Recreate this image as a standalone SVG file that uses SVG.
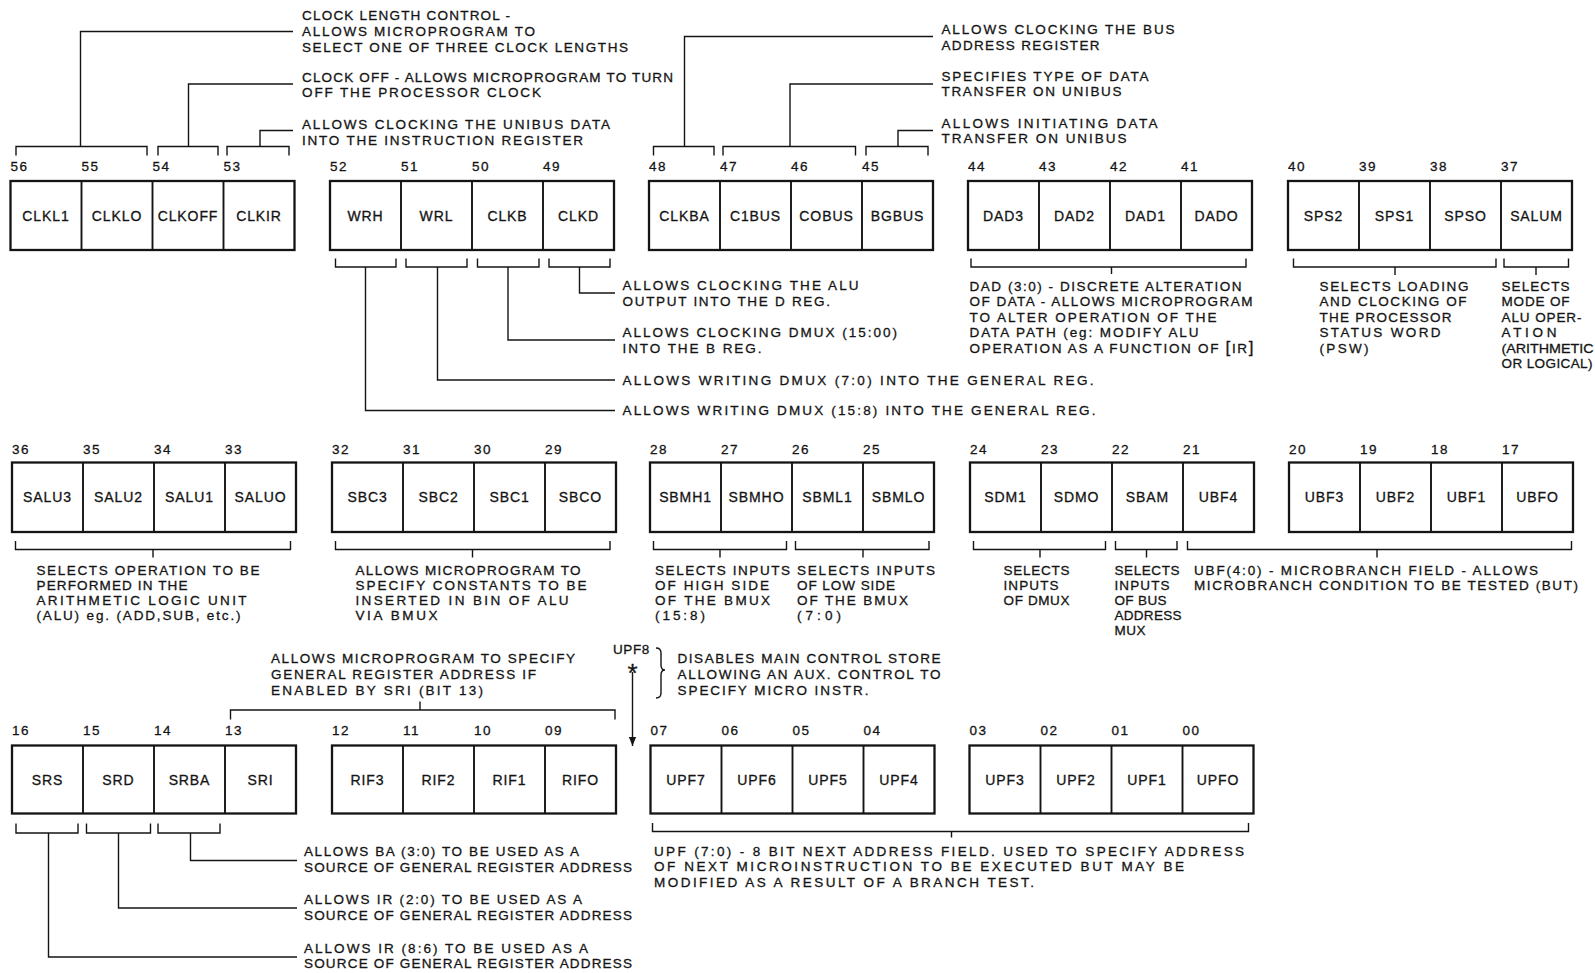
<svg xmlns="http://www.w3.org/2000/svg" width="1595" height="973" viewBox="0 0 1595 973">
<defs>
<style>
.bx{fill:#fff;stroke:#141414;stroke-width:2.3}
.dv{stroke:#141414;stroke-width:1.9;fill:none}
.cn{fill:none;stroke:#141414;stroke-width:1.4}
text{font-family:'Liberation Sans',Arial,Helvetica,sans-serif;fill:#141414;stroke:#141414;stroke-width:0.3}
.lb{font-size:14px;letter-spacing:0.9px;text-anchor:middle}
.nm{font-size:13.5px;letter-spacing:1.6px}
.t{font-size:13.5px}
</style>
<marker id="ah" viewBox="0 0 10 8" refX="10" refY="4" markerWidth="9" markerHeight="8" markerUnits="userSpaceOnUse" orient="auto"><path d="M0,0 L10,4 L0,8 Z" fill="#141414"/></marker>
</defs>
<rect width="1595" height="973" fill="#fff"/>

<g id="connectors">
<path class="cn" d="M16,155.5V146.5H147V155.5M80.5,146.5V31.5H293"/>
<path class="cn" d="M158,155.5V146.5H218V155.5M188.5,146.5V84H293"/>
<path class="cn" d="M227,155.5V146.5H289V155.5M260,146.5V130.5H293"/>
<path class="cn" d="M653.5,155.5V146.5H714V155.5M684.5,146.5V36.5H933"/>
<path class="cn" d="M723,155.5V146.5H855.5V155.5M790,146.5V84H933"/>
<path class="cn" d="M866,155.5V146.5H928V155.5M898,146.5V130.5H933"/>
<path class="cn" d="M335.5,258.5V267H396V258.5M365.5,267V410.5H615"/>
<path class="cn" d="M406,258.5V267H467V258.5M437.5,267V380H615"/>
<path class="cn" d="M477.5,258.5V267H539V258.5M508,267V340H615"/>
<path class="cn" d="M549,258.5V267H610V258.5M579.5,267V293H615"/>
<path class="cn" d="M971,258.5V267H1246V258.5M1111.5,267V274"/>
<path class="cn" d="M1293.5,258.5V267H1496V258.5M1395,267V275"/>
<path class="cn" d="M1504,258.5V267H1568.5V258.5M1536,267V275"/>
<path class="cn" d="M15.5,541V549.5H290.5V541M153,549.5V557.5"/>
<path class="cn" d="M335.5,541V549.5H610V541M472.5,549.5V557.5"/>
<path class="cn" d="M653.5,541V549.5H786.5V541M720,549.5V557.5"/>
<path class="cn" d="M795.5,541V549.5H929V541M863,549.5V557.5"/>
<path class="cn" d="M973.5,541V549.5H1105.5V541M1040,549.5V557.5"/>
<path class="cn" d="M1115.5,541V549.5H1177V541M1146.5,549.5V557.5"/>
<path class="cn" d="M1187.5,541V549.5H1571.5V541M1377,549.5V557.5"/>
<path class="cn" d="M230.5,719.5V710H615V719.5M420,710V701.5"/>
<path class="cn" d="M632.5,672V746" marker-end="url(#ah)"/>
<path class="cn" d="M656,648Q661,648 661,653V665Q661,670 665,670Q661,670 661,675V693Q661,698 656,698"/>
<path class="cn" d="M16,823.5V833H78V823.5M48.5,833V957H297"/>
<path class="cn" d="M86.5,823.5V833H150.5V823.5M118.5,833V908H297"/>
<path class="cn" d="M158,823.5V833H220V823.5M190.5,833V860.5H297"/>
<path class="cn" d="M652.5,823V831.5H1248.5V823M951.5,831.5V837.5"/>
</g>

<g id="f56-53">
<rect class="bx" x="10.5" y="181" width="284" height="69"/>
<path class="dv" d="M81.5,181V250M152.5,181V250M223.5,181V250"/>
<text class="nm" x="10.5" y="171">56</text><text class="nm" x="81.5" y="171">55</text><text class="nm" x="152.5" y="171">54</text><text class="nm" x="223.5" y="171">53</text>
<text class="lb" x="46" y="220.5">CLKL1</text><text class="lb" x="117" y="220.5">CLKLO</text><text class="lb" x="188" y="220.5">CLKOFF</text><text class="lb" x="259" y="220.5">CLKIR</text>
</g>
<g id="f52-49">
<rect class="bx" x="330" y="181" width="284" height="69"/>
<path class="dv" d="M401,181V250M472,181V250M543,181V250"/>
<text class="nm" x="330" y="171">52</text><text class="nm" x="401" y="171">51</text><text class="nm" x="472" y="171">50</text><text class="nm" x="543" y="171">49</text>
<text class="lb" x="365.5" y="220.5">WRH</text><text class="lb" x="436.5" y="220.5">WRL</text><text class="lb" x="507.5" y="220.5">CLKB</text><text class="lb" x="578.5" y="220.5">CLKD</text>
</g>
<g id="f48-45">
<rect class="bx" x="649" y="181" width="284" height="69"/>
<path class="dv" d="M720,181V250M791,181V250M862,181V250"/>
<text class="nm" x="649" y="171">48</text><text class="nm" x="720" y="171">47</text><text class="nm" x="791" y="171">46</text><text class="nm" x="862" y="171">45</text>
<text class="lb" x="684.5" y="220.5">CLKBA</text><text class="lb" x="755.5" y="220.5">C1BUS</text><text class="lb" x="826.5" y="220.5">COBUS</text><text class="lb" x="897.5" y="220.5">BGBUS</text>
</g>
<g id="f44-41">
<rect class="bx" x="968" y="181" width="284" height="69"/>
<path class="dv" d="M1039,181V250M1110,181V250M1181,181V250"/>
<text class="nm" x="968" y="171">44</text><text class="nm" x="1039" y="171">43</text><text class="nm" x="1110" y="171">42</text><text class="nm" x="1181" y="171">41</text>
<text class="lb" x="1003.5" y="220.5">DAD3</text><text class="lb" x="1074.5" y="220.5">DAD2</text><text class="lb" x="1145.5" y="220.5">DAD1</text><text class="lb" x="1216.5" y="220.5">DADO</text>
</g>
<g id="f40-37">
<rect class="bx" x="1288" y="181" width="284" height="69"/>
<path class="dv" d="M1359,181V250M1430,181V250M1501,181V250"/>
<text class="nm" x="1288" y="171">40</text><text class="nm" x="1359" y="171">39</text><text class="nm" x="1430" y="171">38</text><text class="nm" x="1501" y="171">37</text>
<text class="lb" x="1323.5" y="220.5">SPS2</text><text class="lb" x="1394.5" y="220.5">SPS1</text><text class="lb" x="1465.5" y="220.5">SPSO</text><text class="lb" x="1536.5" y="220.5">SALUM</text>
</g>

<g id="f36-33">
<rect class="bx" x="12" y="462.5" width="284" height="69.5"/>
<path class="dv" d="M83,462.5V532M154,462.5V532M225,462.5V532"/>
<text class="nm" x="12" y="453.5">36</text><text class="nm" x="83" y="453.5">35</text><text class="nm" x="154" y="453.5">34</text><text class="nm" x="225" y="453.5">33</text>
<text class="lb" x="47.5" y="502">SALU3</text><text class="lb" x="118.5" y="502">SALU2</text><text class="lb" x="189.5" y="502">SALU1</text><text class="lb" x="260.5" y="502">SALUO</text>
</g>
<g id="f32-29">
<rect class="bx" x="332" y="462.5" width="284" height="69.5"/>
<path class="dv" d="M403,462.5V532M474,462.5V532M545,462.5V532"/>
<text class="nm" x="332" y="453.5">32</text><text class="nm" x="403" y="453.5">31</text><text class="nm" x="474" y="453.5">30</text><text class="nm" x="545" y="453.5">29</text>
<text class="lb" x="367.5" y="502">SBC3</text><text class="lb" x="438.5" y="502">SBC2</text><text class="lb" x="509.5" y="502">SBC1</text><text class="lb" x="580.5" y="502">SBCO</text>
</g>
<g id="f28-25">
<rect class="bx" x="650" y="462.5" width="284" height="69.5"/>
<path class="dv" d="M721,462.5V532M792,462.5V532M863,462.5V532"/>
<text class="nm" x="650" y="453.5">28</text><text class="nm" x="721" y="453.5">27</text><text class="nm" x="792" y="453.5">26</text><text class="nm" x="863" y="453.5">25</text>
<text class="lb" x="685.5" y="502">SBMH1</text><text class="lb" x="756.5" y="502">SBMHO</text><text class="lb" x="827.5" y="502">SBML1</text><text class="lb" x="898.5" y="502">SBMLO</text>
</g>
<g id="f24-21">
<rect class="bx" x="970" y="462.5" width="284" height="69.5"/>
<path class="dv" d="M1041,462.5V532M1112,462.5V532M1183,462.5V532"/>
<text class="nm" x="970" y="453.5">24</text><text class="nm" x="1041" y="453.5">23</text><text class="nm" x="1112" y="453.5">22</text><text class="nm" x="1183" y="453.5">21</text>
<text class="lb" x="1005.5" y="502">SDM1</text><text class="lb" x="1076.5" y="502">SDMO</text><text class="lb" x="1147.5" y="502">SBAM</text><text class="lb" x="1218.5" y="502">UBF4</text>
</g>
<g id="f20-17">
<rect class="bx" x="1289" y="462.5" width="284" height="69.5"/>
<path class="dv" d="M1360,462.5V532M1431,462.5V532M1502,462.5V532"/>
<text class="nm" x="1289" y="453.5">20</text><text class="nm" x="1360" y="453.5">19</text><text class="nm" x="1431" y="453.5">18</text><text class="nm" x="1502" y="453.5">17</text>
<text class="lb" x="1324.5" y="502">UBF3</text><text class="lb" x="1395.5" y="502">UBF2</text><text class="lb" x="1466.5" y="502">UBF1</text><text class="lb" x="1537.5" y="502">UBFO</text>
</g>

<g id="f16-13">
<rect class="bx" x="12" y="745.5" width="284" height="68"/>
<path class="dv" d="M83,745.5V813.5M154,745.5V813.5M225,745.5V813.5"/>
<text class="nm" x="12" y="735">16</text><text class="nm" x="83" y="735">15</text><text class="nm" x="154" y="735">14</text><text class="nm" x="225" y="735">13</text>
<text class="lb" x="47.5" y="784.5">SRS</text><text class="lb" x="118.5" y="784.5">SRD</text><text class="lb" x="189.5" y="784.5">SRBA</text><text class="lb" x="260.5" y="784.5">SRI</text>
</g>
<g id="f12-09">
<rect class="bx" x="332" y="745.5" width="284" height="68"/>
<path class="dv" d="M403,745.5V813.5M474,745.5V813.5M545,745.5V813.5"/>
<text class="nm" x="332" y="735">12</text><text class="nm" x="403" y="735">11</text><text class="nm" x="474" y="735">10</text><text class="nm" x="545" y="735">09</text>
<text class="lb" x="367.5" y="784.5">RIF3</text><text class="lb" x="438.5" y="784.5">RIF2</text><text class="lb" x="509.5" y="784.5">RIF1</text><text class="lb" x="580.5" y="784.5">RIFO</text>
</g>
<g id="f07-04">
<rect class="bx" x="650.5" y="745.5" width="284" height="68"/>
<path class="dv" d="M721.5,745.5V813.5M792.5,745.5V813.5M863.5,745.5V813.5"/>
<text class="nm" x="650.5" y="735">07</text><text class="nm" x="721.5" y="735">06</text><text class="nm" x="792.5" y="735">05</text><text class="nm" x="863.5" y="735">04</text>
<text class="lb" x="686" y="784.5">UPF7</text><text class="lb" x="757" y="784.5">UPF6</text><text class="lb" x="828" y="784.5">UPF5</text><text class="lb" x="899" y="784.5">UPF4</text>
</g>
<g id="f03-00">
<rect class="bx" x="969.5" y="745.5" width="284" height="68"/>
<path class="dv" d="M1040.5,745.5V813.5M1111.5,745.5V813.5M1182.5,745.5V813.5"/>
<text class="nm" x="969.5" y="735">03</text><text class="nm" x="1040.5" y="735">02</text><text class="nm" x="1111.5" y="735">01</text><text class="nm" x="1182.5" y="735">00</text>
<text class="lb" x="1005" y="784.5">UPF3</text><text class="lb" x="1076" y="784.5">UPF2</text><text class="lb" x="1147" y="784.5">UPF1</text><text class="lb" x="1218" y="784.5">UPFO</text>
</g>

<g id="desc-clkl">
<text class="t" x="302" y="19.5" textLength="208" lengthAdjust="spacing">CLOCK LENGTH CONTROL -</text>
<text class="t" x="302" y="36" textLength="233" lengthAdjust="spacing">ALLOWS MICROPROGRAM TO</text>
<text class="t" x="302" y="51.5" textLength="326" lengthAdjust="spacing">SELECT ONE OF THREE CLOCK LENGTHS</text>
</g>
<g id="desc-clkoff">
<text class="t" x="302" y="81.5" textLength="371" lengthAdjust="spacing">CLOCK OFF - ALLOWS MICROPROGRAM TO TURN</text>
<text class="t" x="302" y="97" textLength="239" lengthAdjust="spacing">OFF THE PROCESSOR CLOCK</text>
</g>
<g id="desc-clkir">
<text class="t" x="302" y="128.5" textLength="308" lengthAdjust="spacing">ALLOWS CLOCKING THE UNIBUS DATA</text>
<text class="t" x="302" y="144.5" textLength="281" lengthAdjust="spacing">INTO THE INSTRUCTION REGISTER</text>
</g>
<g id="desc-clkba">
<text class="t" x="941.5" y="34" textLength="233" lengthAdjust="spacing">ALLOWS CLOCKING THE BUS</text>
<text class="t" x="941.5" y="50" textLength="158" lengthAdjust="spacing">ADDRESS REGISTER</text>
</g>
<g id="desc-cbus">
<text class="t" x="941.5" y="80.5" textLength="207" lengthAdjust="spacing">SPECIFIES TYPE OF DATA</text>
<text class="t" x="941.5" y="96" textLength="180" lengthAdjust="spacing">TRANSFER ON UNIBUS</text>
</g>
<g id="desc-bgbus">
<text class="t" x="941.5" y="127.5" textLength="216" lengthAdjust="spacing">ALLOWS INITIATING DATA</text>
<text class="t" x="941.5" y="142.5" textLength="185" lengthAdjust="spacing">TRANSFER ON UNIBUS</text>
</g>
<g id="desc-clkd">
<text class="t" x="622.5" y="289.5" textLength="236" lengthAdjust="spacing">ALLOWS CLOCKING THE ALU</text>
<text class="t" x="622.5" y="305.5" textLength="207.5" lengthAdjust="spacing">OUTPUT INTO THE D REG.</text>
</g>
<g id="desc-clkb">
<text class="t" x="622.5" y="336.5" textLength="274.5" lengthAdjust="spacing">ALLOWS CLOCKING DMUX (15:00)</text>
<text class="t" x="622.5" y="353" textLength="139" lengthAdjust="spacing">INTO THE B REG.</text>
</g>
<g id="desc-wrl">
<text class="t" x="622.5" y="384.5" textLength="471" lengthAdjust="spacing">ALLOWS WRITING DMUX (7:0) INTO THE GENERAL REG.</text>
</g>
<g id="desc-wrh">
<text class="t" x="622.5" y="415" textLength="473" lengthAdjust="spacing">ALLOWS WRITING DMUX (15:8) INTO THE GENERAL REG.</text>
</g>
<g id="desc-dad">
<text class="t" x="969.5" y="290.5" textLength="272" lengthAdjust="spacing">DAD (3:0) - DISCRETE ALTERATION</text>
<text class="t" x="969.5" y="306" textLength="283" lengthAdjust="spacing">OF DATA - ALLOWS MICROPROGRAM</text>
<text class="t" x="969.5" y="321.5" textLength="247" lengthAdjust="spacing">TO ALTER OPERATION OF THE</text>
<text class="t" x="969.5" y="337" textLength="229" lengthAdjust="spacing">DATA PATH (eg: MODIFY ALU</text>
<text class="t" x="969.5" y="352.5" textLength="284" lengthAdjust="spacing">OPERATION AS A FUNCTION OF <tspan font-size="17">[</tspan>IR<tspan font-size="17">]</tspan></text>
</g>
<g id="desc-sps">
<text class="t" x="1319.5" y="290.5" textLength="149" lengthAdjust="spacing">SELECTS LOADING</text>
<text class="t" x="1319.5" y="306" textLength="147" lengthAdjust="spacing">AND CLOCKING OF</text>
<text class="t" x="1319.5" y="321.5" textLength="132" lengthAdjust="spacing">THE PROCESSOR</text>
<text class="t" x="1319.5" y="337" textLength="121" lengthAdjust="spacing">STATUS WORD</text>
<text class="t" x="1319.5" y="352.5" textLength="49" lengthAdjust="spacing">(PSW)</text>
</g>
<g id="desc-salum">
<text class="t" x="1501.5" y="290.5" textLength="68" lengthAdjust="spacing">SELECTS</text>
<text class="t" x="1501.5" y="306" textLength="68" lengthAdjust="spacing">MODE OF</text>
<text class="t" x="1501.5" y="321.5" textLength="80" lengthAdjust="spacing">ALU OPER-</text>
<text class="t" x="1501.5" y="337" textLength="55" lengthAdjust="spacing">ATION</text>
<text class="t" x="1501.5" y="352.5" textLength="92" lengthAdjust="spacingAndGlyphs">(ARITHMETIC</text>
<text class="t" x="1501.5" y="368" textLength="91" lengthAdjust="spacing">OR LOGICAL)</text>
</g>
<g id="desc-salu">
<text class="t" x="36.5" y="575" textLength="223" lengthAdjust="spacing">SELECTS OPERATION TO BE</text>
<text class="t" x="36.5" y="590" textLength="151" lengthAdjust="spacing">PERFORMED IN THE</text>
<text class="t" x="36.5" y="605" textLength="210" lengthAdjust="spacing">ARITHMETIC LOGIC UNIT</text>
<text class="t" x="36.5" y="620" textLength="204" lengthAdjust="spacing">(ALU) eg. (ADD,SUB, etc.)</text>
</g>
<g id="desc-sbc">
<text class="t" x="355.5" y="575" textLength="225" lengthAdjust="spacing">ALLOWS MICROPROGRAM TO</text>
<text class="t" x="355.5" y="590" textLength="231" lengthAdjust="spacing">SPECIFY CONSTANTS TO BE</text>
<text class="t" x="355.5" y="605" textLength="213" lengthAdjust="spacing">INSERTED IN BIN OF ALU</text>
<text class="t" x="355.5" y="620" textLength="82" lengthAdjust="spacing">VIA BMUX</text>
</g>
<g id="desc-sbmh">
<text class="t" x="655" y="575" textLength="135" lengthAdjust="spacing">SELECTS INPUTS</text>
<text class="t" x="655" y="590" textLength="114" lengthAdjust="spacing">OF HIGH SIDE</text>
<text class="t" x="655" y="605" textLength="115" lengthAdjust="spacing">OF THE BMUX</text>
<text class="t" x="655" y="620" textLength="50" lengthAdjust="spacing">(15:8)</text>
</g>
<g id="desc-sbml">
<text class="t" x="797" y="575" textLength="138" lengthAdjust="spacing">SELECTS INPUTS</text>
<text class="t" x="797" y="590" textLength="98" lengthAdjust="spacing">OF LOW SIDE</text>
<text class="t" x="797" y="605" textLength="111" lengthAdjust="spacing">OF THE BMUX</text>
<text class="t" x="797" y="620" textLength="44" lengthAdjust="spacing">(7:0)</text>
</g>
<g id="desc-sdm">
<text class="t" x="1003.5" y="575" textLength="66" lengthAdjust="spacing">SELECTS</text>
<text class="t" x="1003.5" y="590" textLength="55" lengthAdjust="spacing">INPUTS</text>
<text class="t" x="1003.5" y="605" textLength="66" lengthAdjust="spacing">OF DMUX</text>
</g>
<g id="desc-sbam">
<text class="t" x="1114.5" y="575" textLength="65" lengthAdjust="spacing">SELECTS</text>
<text class="t" x="1114.5" y="590" textLength="55" lengthAdjust="spacing">INPUTS</text>
<text class="t" x="1114.5" y="605" textLength="52" lengthAdjust="spacing">OF BUS</text>
<text class="t" x="1114.5" y="620" textLength="67" lengthAdjust="spacing">ADDRESS</text>
<text class="t" x="1114.5" y="634.5" textLength="31" lengthAdjust="spacing">MUX</text>
</g>
<g id="desc-ubf">
<text class="t" x="1194" y="575" textLength="344" lengthAdjust="spacing">UBF(4:0) - MICROBRANCH FIELD - ALLOWS</text>
<text class="t" x="1194" y="590" textLength="384" lengthAdjust="spacing">MICROBRANCH CONDITION TO BE TESTED (BUT)</text>
</g>
<g id="desc-rif">
<text class="t" x="271" y="663" textLength="304" lengthAdjust="spacing">ALLOWS MICROPROGRAM TO SPECIFY</text>
<text class="t" x="271" y="679" textLength="265" lengthAdjust="spacing">GENERAL REGISTER ADDRESS IF</text>
<text class="t" x="271" y="694.5" textLength="212" lengthAdjust="spacing">ENABLED BY SRI (BIT 13)</text>
</g>
<g id="upf8">
<text class="t" x="613" y="654" font-size="12.5" letter-spacing="0.6">UPF8</text>
<text x="632.5" y="682" font-size="26" text-anchor="middle">*</text>
<text class="t" x="677.5" y="663" textLength="263" lengthAdjust="spacing">DISABLES MAIN CONTROL STORE</text>
<text class="t" x="677.5" y="678.5" textLength="263" lengthAdjust="spacing">ALLOWING AN AUX. CONTROL TO</text>
<text class="t" x="677.5" y="694.5" textLength="191" lengthAdjust="spacing">SPECIFY MICRO INSTR.</text>
</g>
<g id="desc-upf">
<text class="t" x="654" y="855.5" textLength="590" lengthAdjust="spacing">UPF (7:0) - 8 BIT NEXT ADDRESS FIELD. USED TO SPECIFY ADDRESS</text>
<text class="t" x="654" y="871" textLength="530" lengthAdjust="spacing">OF NEXT MICROINSTRUCTION TO BE EXECUTED BUT MAY BE</text>
<text class="t" x="654" y="887" textLength="380" lengthAdjust="spacing">MODIFIED AS A RESULT OF A BRANCH TEST.</text>
</g>
<g id="desc-srba">
<text class="t" x="304" y="856" textLength="275" lengthAdjust="spacing">ALLOWS BA (3:0) TO BE USED AS A</text>
<text class="t" x="304" y="871.5" textLength="328" lengthAdjust="spacing">SOURCE OF GENERAL REGISTER ADDRESS</text>
</g>
<g id="desc-srd">
<text class="t" x="304" y="904" textLength="278" lengthAdjust="spacing">ALLOWS IR (2:0) TO BE USED AS A</text>
<text class="t" x="304" y="920" textLength="328" lengthAdjust="spacing">SOURCE OF GENERAL REGISTER ADDRESS</text>
</g>
<g id="desc-srs">
<text class="t" x="304" y="952.5" textLength="284" lengthAdjust="spacing">ALLOWS IR (8:6) TO BE USED AS A</text>
<text class="t" x="304" y="968" textLength="328" lengthAdjust="spacing">SOURCE OF GENERAL REGISTER ADDRESS</text>
</g>
</svg>
